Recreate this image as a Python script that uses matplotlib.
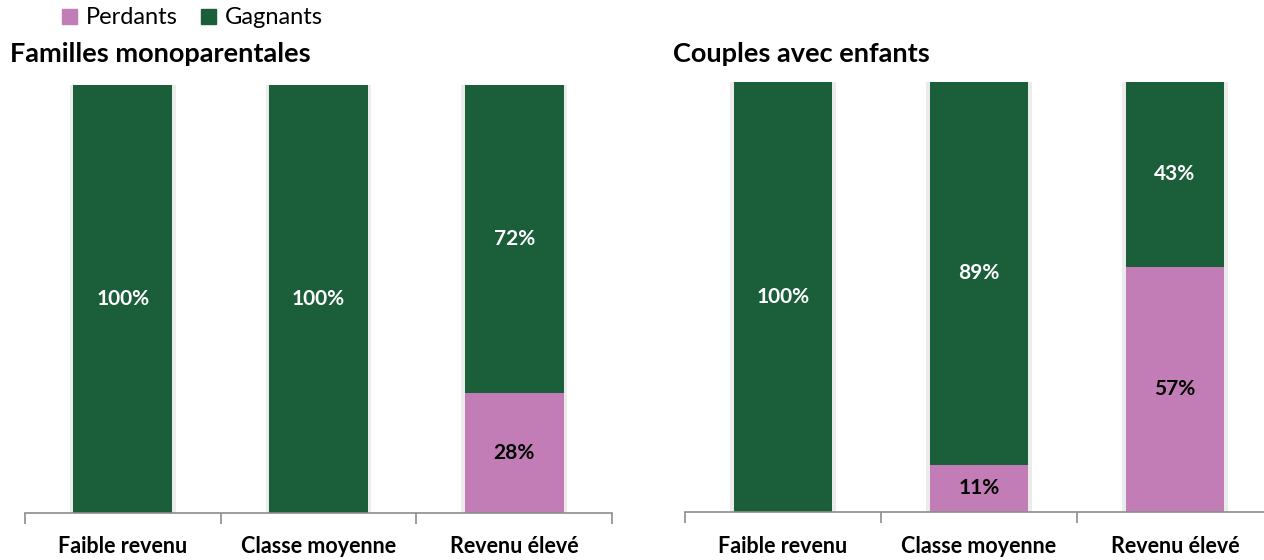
import numpy as np
import matplotlib.pyplot as plt
from matplotlib.patches import Patch

plt.rcParams['font.family'] = ['Lato', 'DejaVu Sans']

categories = ['Faible revenu', 'Classe moyenne', 'Revenu élevé']
titles = ['Familles monoparentales', 'Couples avec enfants']
perdants = [[0, 0, 28], [0, 11, 57]]
gagnants = [[100, 100, 72], [100, 89, 43]]

green = '#1b5e3a'
pink = '#c27db6'
spine_col = '#8c8c8c'

W, H = 1264, 560
fig = plt.figure(figsize=(W / 100, H / 100), dpi=100)

# pixel boxes: (left, bottom_px_from_top, right, top_px_from_top)
boxes = [(25, 513, 612, 85), (685, 512, 1273, 82)]
title_pos = [(10, 62), (673, 62)]
label_base = 553

x = np.arange(len(categories))
bw = 0.505
for k, (l, b, r, t) in enumerate(boxes):
    ax = fig.add_axes([l / W, (H - b) / H, (r - l) / W, (b - t) / H])
    p = np.array(perdants[k])
    g = np.array(gagnants[k])
    # soft shadow behind bars
    ax.bar(x, p + g, bw + 0.035, color='#ebebeb', zorder=1)
    ax.bar(x, p, bw, color=pink, zorder=2)
    ax.bar(x, g, bw, bottom=p, color=green, zorder=2)
    for i in range(len(x)):
        if p[i] > 0:
            ax.text(x[i], p[i] / 2, f'{p[i]}%', ha='center', va='center',
                    fontsize=15, fontweight='bold', color='black', zorder=3)
        if g[i] > 0:
            ax.text(x[i], p[i] + g[i] / 2, f'{g[i]}%', ha='center', va='center',
                    fontsize=15, fontweight='bold', color='white', zorder=3)
    ax.set_xlim(-0.5, 2.5)
    ax.set_ylim(0, 100)
    for s in ['top', 'right', 'left']:
        ax.spines[s].set_visible(False)
    ax.spines['bottom'].set_color(spine_col)
    ax.spines['bottom'].set_linewidth(1.2)
    ax.set_yticks([])
    ax.set_xticks([-0.5, 0.5, 1.5, 2.5])
    ax.set_xticklabels([])
    ax.tick_params(axis='x', which='major', length=8, width=1.2, color=spine_col)
    for i, c in enumerate(categories):
        ax.text(x[i], -(label_base - b) / (b - t), c, transform=ax.get_xaxis_transform(),
                ha='center', va='baseline', fontsize=15.5, fontweight='bold')
    tx, ty = title_pos[k]
    fig.text(tx / W, 1 - ty / H, titles[k], fontsize=19.5, fontweight='bold',
             ha='left', va='baseline')

handles = [Patch(color=pink, label='Perdants'), Patch(color=green, label='Gagnants')]
fig.legend(handles=handles, loc='upper left', bbox_to_anchor=(60 / W, 1 - 5 / H),
           ncol=2, frameon=False, fontsize=17, handlelength=0.6, handleheight=0.6,
           handletextpad=0.4, columnspacing=1.0, borderaxespad=0, borderpad=0.1)

fig.savefig('out.png', dpi=100)
